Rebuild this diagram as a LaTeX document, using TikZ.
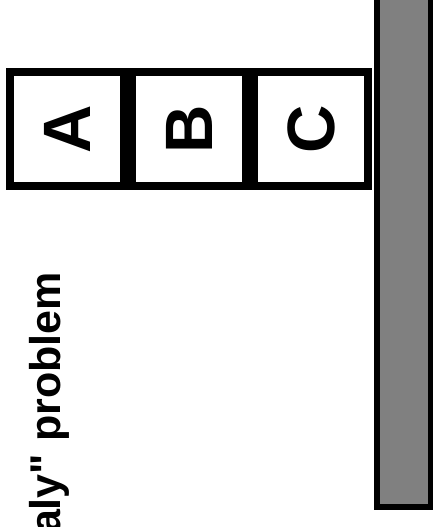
\documentclass[tikz,border=0pt]{standalone}
\usepackage{fontspec}
\setmainfont{Liberation Sans}
\usetikzlibrary{positioning}
\definecolor{tablegray}{RGB}{128,128,128}
\tikzset{
  blockbox/.style={draw,line width=8pt,minimum size=114pt,inner sep=0pt,
    font=\fontsize{67}{67}\selectfont\bfseries},
  tablebox/.style={draw,line width=6pt,fill=tablegray,inner sep=0pt}
}
\begin{document}
\begin{tikzpicture}[x=1pt,y=-1pt]
  \useasboundingbox (0,0) rectangle (433,527);
  \clip (0,0) rectangle (433,527);
  \node[blockbox] (a) at (67,129) {\rotatebox{90}{A}};
  \node[blockbox,right=0pt of a] (b) {\rotatebox{90}{B}};
  \node[blockbox,right=0pt of b] (c) {\rotatebox{90}{C}};
  \node[tablebox,minimum width=53.5pt,minimum height=530pt,anchor=south west] (table) at (374,510) {};
  \node[rotate=90,anchor=base east,inner sep=0pt,font=\fontsize{43}{43}\selectfont\bfseries] (caption) at (60,272) {aly\textquotedbl\ problem};
\end{tikzpicture}
\end{document}
